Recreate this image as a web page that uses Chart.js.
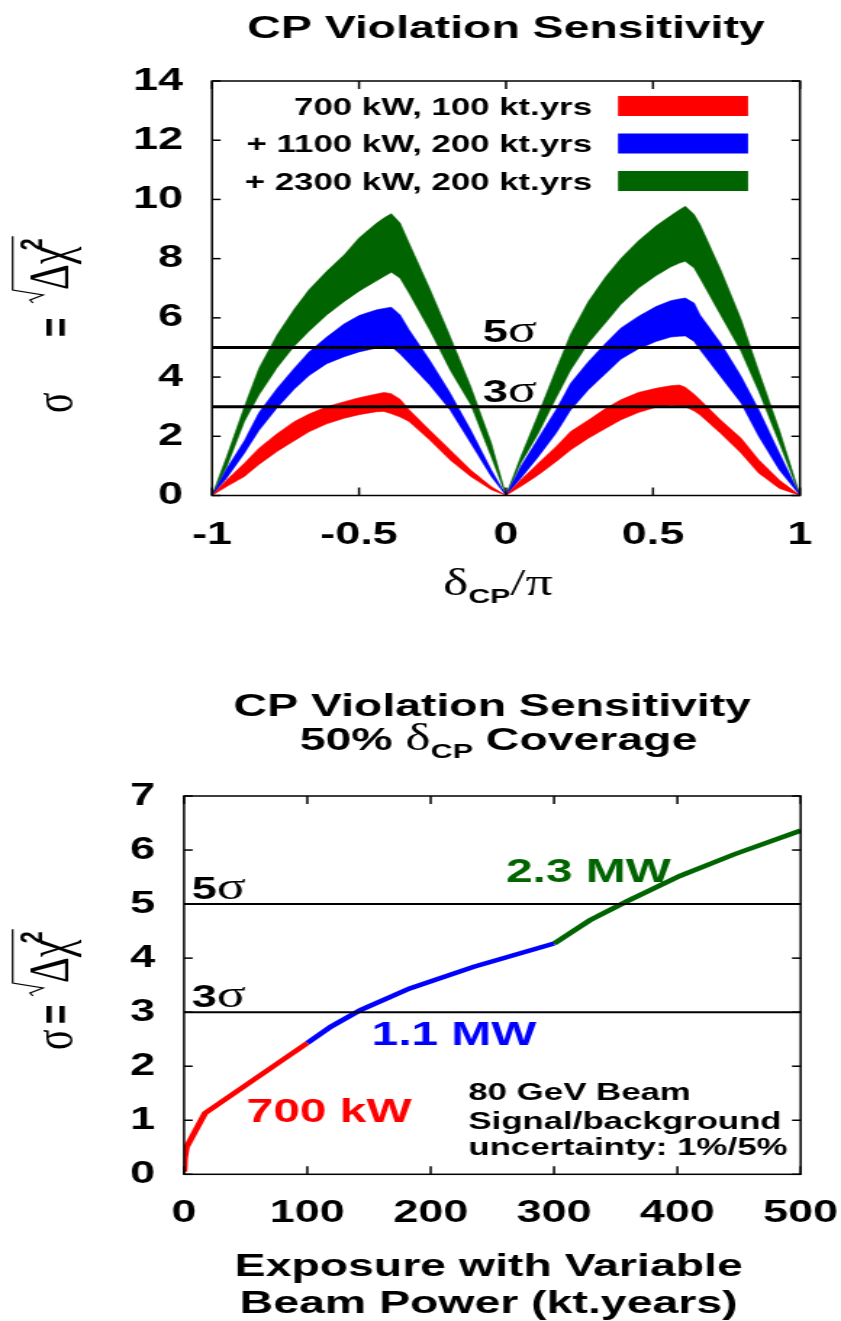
<!DOCTYPE html>
<html>
<head>
<meta charset="utf-8">
<script src="https://cdn.jsdelivr.net/npm/chart.js@4.4.1/dist/chart.umd.min.js"></script>
<style>
  html, body { margin: 0; padding: 0; background: #fff; }
  #wrap { position: relative; width: 841px; height: 1321px; overflow: hidden; }
  canvas { position: absolute; left: 0; }
</style>
</head>
<body>
<div id="wrap">
  <canvas id="cpTop" width="580" height="640" style="top:0;width:841px;height:640px"></canvas>
  <canvas id="cpBottom" width="580" height="681" style="top:640px;width:841px;height:681px"></canvas>
</div>
<script>
'use strict';

// ---- data: top panel (bands of sigma vs deltaCP/pi)
const deltaCP = [-1, -0.95, -0.89, -0.84, -0.78, -0.72, -0.67, -0.61, -0.55, -0.5, -0.44, -0.415, -0.39, -0.36, -0.33, -0.26, -0.19, -0.12, -0.05, 0,
  0.05, 0.11, 0.17, 0.22, 0.28, 0.34, 0.39, 0.45, 0.51, 0.56, 0.59, 0.61, 0.64, 0.66, 0.73, 0.80, 0.86, 0.93, 1];

const redLow = [0, 0.3, 0.64, 1.05, 1.48, 1.85, 2.15, 2.42, 2.61, 2.73, 2.83, 2.84, 2.76, 2.65, 2.5, 1.88, 1.2, 0.64, 0.19, 0,
  0.3, 0.69, 1.14, 1.54, 1.93, 2.27, 2.55, 2.8, 2.98, 3.06, 3.04, 3.0, 2.85, 2.72, 2.1, 1.43, 0.75, 0.24, 0];
const redHigh = [0, 0.52, 1.09, 1.6, 2.08, 2.5, 2.75, 3.0, 3.17, 3.3, 3.43, 3.48, 3.44, 3.25, 2.9, 2.21, 1.54, 0.86, 0.3, 0,
  0.52, 1.09, 1.65, 2.16, 2.55, 2.95, 3.23, 3.48, 3.62, 3.71, 3.73, 3.66, 3.42, 3.23, 2.55, 1.93, 1.2, 0.52, 0];
const blueLow = [0, 0.59, 1.43, 2.2, 2.95, 3.6, 4.05, 4.45, 4.69, 4.85, 4.98, 5.0, 5.03, 4.78, 4.47, 3.74, 2.89, 1.77, 0.64, 0,
  0.58, 1.31, 2.1, 2.89, 3.57, 4.13, 4.6, 4.95, 5.2, 5.35, 5.38, 5.39, 5.2, 4.92, 4.02, 3.12, 1.99, 0.86, 0];
const blueHigh = [0, 0.9, 1.85, 2.8, 3.6, 4.3, 4.85, 5.35, 5.8, 6.08, 6.27, 6.32, 6.36, 6.1, 5.6, 4.58, 3.46, 2.21, 0.86, 0,
  0.97, 1.93, 2.89, 3.79, 4.52, 5.15, 5.65, 6.05, 6.38, 6.58, 6.64, 6.67, 6.5, 6.1, 5.15, 4.02, 2.89, 1.43, 0];
const greenLow = [0, 0.97, 2.5, 3.4, 4.3, 5.05, 5.55, 6.1, 6.55, 6.9, 7.25, 7.4, 7.54, 7.34, 6.84, 5.6, 4.24, 3.07, 1.31, 0,
  1.09, 2.1, 3.29, 4.24, 5.15, 5.85, 6.45, 7.0, 7.42, 7.72, 7.85, 7.91, 7.68, 7.34, 6.1, 4.86, 3.51, 1.77, 0];
const greenHigh = [0, 1.31, 3.0, 4.3, 5.4, 6.3, 6.95, 7.57, 8.13, 8.7, 9.2, 9.38, 9.52, 9.2, 8.53, 7.0, 5.37, 3.68, 1.77, 0,
  1.3, 2.75, 4.25, 5.45, 6.55, 7.4, 8.0, 8.6, 9.1, 9.45, 9.65, 9.77, 9.49, 9.15, 7.63, 5.94, 4.19, 2.21, 0];

const bandLabels = ['700 kW, 100 kt.yrs', '+ 1100 kW, 200 kt.yrs', '+ 2300 kW, 200 kt.yrs'];
const bandColors = ['#ff0000', '#0000ff', '#006400'];

// ---- data: bottom panel (50% coverage vs exposure)
const exposure700 = [0, 0.5, 2, 17, 100];
const sensitivity700 = [0.05, 0.3, 0.5, 1.13, 2.43];
const exposure1100 = [100, 119, 143, 183, 235, 300];
const sensitivity1100 = [2.43, 2.73, 3.04, 3.44, 3.84, 4.27];
const exposure2300 = [300, 329, 359, 402, 446, 500];
const sensitivity2300 = [4.27, 4.7, 5.05, 5.52, 5.92, 6.36];

const sigmaLevels = [5, 3];
const sigmaLabels = ['5', '3'];

const SANS = '"Liberation Sans", Arial, Helvetica, sans-serif';
const SERIF = '"Liberation Serif", "Times New Roman", serif';
const TICK_FONT = { family: SANS, size: 31, weight: 'bold' };

// canvases are drawn 580 px wide and stretched to 841 px, like the original
function toPoints(xs, ys) {
  return xs.map((x, i) => ({ x: x, y: ys[i] }));
}

function bandDatasets(low, high, color) {
  return [
    { data: toPoints(deltaCP, low), borderColor: color, borderWidth: 0.6, fill: false, order: 2 },
    { data: toPoints(deltaCP, high), borderColor: color, borderWidth: 0.6, backgroundColor: color, fill: '-1', order: 2 }
  ];
}

function sigmaDatasets(xMin, xMax, width) {
  return sigmaLevels.map(s => ({
    data: [{ x: xMin, y: s }, { x: xMax, y: s }],
    borderColor: '#000', borderWidth: width, fill: false, order: 0
  }));
}

function drawRich(ctx, parts, x, y, align) {
  let total = 0;
  parts.forEach(p => { ctx.font = p[1]; total += ctx.measureText(p[0]).width; });
  let cx = align === 'center' ? x - total / 2 : (align === 'right' ? x - total : x);
  ctx.textAlign = 'left';
  ctx.textBaseline = 'alphabetic';
  parts.forEach(p => {
    ctx.font = p[1];
    ctx.fillText(p[0], cx, y + (p[2] || 0));
    cx += ctx.measureText(p[0]).width;
  });
}

// rotated "sigma = sqrt(Delta chi^2)", eqU / deltaU are offsets along the text
function drawYLabel(ctx, xb, yb, eqU, deltaU) {
  ctx.save();
  ctx.translate(xb, yb);
  ctx.rotate(-Math.PI / 2);
  ctx.fillStyle = '#000';
  ctx.strokeStyle = '#000';
  ctx.textAlign = 'left';
  ctx.textBaseline = 'alphabetic';
  ctx.font = '38px ' + SERIF;
  ctx.fillText('σ', 0, 0);
  ctx.font = 'bold 33px ' + SANS;
  ctx.fillText('=', eqU, 0);
  ctx.font = '40px ' + SERIF;
  const dw = ctx.measureText('Δχ').width;
  ctx.fillText('Δχ', deltaU, -3);
  ctx.font = 'bold 22px ' + SANS;
  const tw = ctx.measureText('2').width;
  ctx.fillText('2', deltaU + dw - 4, -21);
  const r0 = deltaU - 13;
  const end = deltaU + dw + tw - 2;
  ctx.lineWidth = 1.2;
  ctx.beginPath();
  ctx.moveTo(r0, -27);
  ctx.lineTo(r0 + 3, -29);
  ctx.lineTo(r0 + 8, -20);
  ctx.lineTo(r0 + 13, -41);
  ctx.lineTo(end, -41);
  ctx.stroke();
  ctx.restore();
}

function line(ctx, x1, y1, x2, y2) {
  ctx.beginPath();
  ctx.moveTo(x1, y1);
  ctx.lineTo(x2, y2);
  ctx.stroke();
}

// box with inward ticks on all four sides
const framePlugin = {
  id: 'frame',
  afterDatasetsDraw(chart) {
    const { ctx, chartArea: a, scales: { x, y } } = chart;
    ctx.save();
    ctx.strokeStyle = '#000';
    ctx.lineWidth = 1.5;
    ctx.strokeRect(a.left, a.top, a.right - a.left, a.bottom - a.top);
    y.ticks.forEach(t => {
      const py = y.getPixelForValue(t.value);
      line(ctx, a.left, py, a.left + 6, py);
      line(ctx, a.right, py, a.right - 6, py);
    });
    x.ticks.forEach(t => {
      const px = x.getPixelForValue(t.value);
      line(ctx, px, a.bottom, px, a.bottom - 8);
      line(ctx, px, a.top, px, a.top + 8);
    });
    ctx.restore();
  }
};

function baseScales(xMin, xMax, xStep, yMin, yMax, yStep, yWidth) {
  return {
    x: {
      type: 'linear', min: xMin, max: xMax,
      grid: { display: false, drawTicks: false }, border: { display: false },
      ticks: { stepSize: xStep, font: TICK_FONT, color: '#000', padding: 21, maxRotation: 0, autoSkip: false,
        callback: v => String(v) },
      afterFit: s => { s.height = 60; s.paddingLeft = 0; s.paddingRight = 0; }
    },
    y: {
      type: 'linear', min: yMin, max: yMax,
      grid: { display: false, drawTicks: false }, border: { display: false },
      ticks: { stepSize: yStep, font: TICK_FONT, color: '#000', padding: 20 },
      afterFit: s => { s.width = yWidth; s.paddingTop = 0; s.paddingBottom = 0; }
    }
  };
}

// Top chart
const topLabels = {
  id: 'topLabels',
  afterDraw(chart) {
    const { ctx, scales: { y } } = chart;
    ctx.save();
    ctx.fillStyle = '#000';
    drawRich(ctx, [['CP Violation Sensitivity', 'bold 32px ' + SANS]], 349, 38, 'center');

    bandLabels.forEach((lab, i) => {
      const cy = 106 + i * 37.5;
      ctx.fillStyle = '#000';
      drawRich(ctx, [[lab, 'bold 24px ' + SANS]], 408.3, cy + 8.5, 'right');
      ctx.fillStyle = bandColors[i];
      ctx.fillRect(426.2, cy - 10, 89.7, 20);
    });

    ctx.fillStyle = '#000';
    sigmaLevels.forEach((s, i) => {
      drawRich(ctx, [[sigmaLabels[i], 'bold 31px ' + SANS], ['σ', '37px ' + SERIF]], 332.9, y.getPixelForValue(s) - 5, 'left');
    });

    drawRich(ctx, [['δ', '37px ' + SERIF], ['CP', 'bold 21px ' + SANS, 8], ['/π', '37px ' + SERIF]], 305.5, 595, 'left');
    drawYLabel(ctx, 49.7, 413, 76, 123);
    ctx.restore();
  }
};

new Chart(document.getElementById('cpTop'), {
  type: 'line',
  data: {
    datasets: [
      ...bandDatasets(redLow, redHigh, bandColors[0]),
      ...bandDatasets(blueLow, blueHigh, bandColors[1]),
      ...bandDatasets(greenLow, greenHigh, bandColors[2]),
      ...sigmaDatasets(-1, 1, 3)
    ]
  },
  options: {
    responsive: false,
    animation: false,
    layout: { padding: { left: 0, right: 28.3, top: 81, bottom: 84.5 } },
    elements: { point: { radius: 0 }, line: { tension: 0 } },
    plugins: { legend: { display: false }, tooltip: { enabled: false } },
    scales: baseScales(-1, 1, 0.5, 0, 14, 2, 146.2)
  },
  plugins: [framePlugin, topLabels]
});

// Bottom chart
const bottomLabels = {
  id: 'bottomLabels',
  afterDraw(chart) {
    const { ctx, scales: { y } } = chart;
    ctx.save();
    ctx.fillStyle = '#000';
    drawRich(ctx, [['CP Violation Sensitivity', 'bold 32px ' + SANS]], 339.5, 76, 'center');
    drawRich(ctx, [['50% ', 'bold 32px ' + SANS], ['δ', '37px ' + SERIF], ['CP', 'bold 21px ' + SANS, 8], [' Coverage', 'bold 32px ' + SANS]], 343.8, 110, 'center');

    sigmaLevels.forEach((s, i) => {
      drawRich(ctx, [[sigmaLabels[i], 'bold 31px ' + SANS], ['σ', '37px ' + SERIF]], 132.2, y.getPixelForValue(s) - 5, 'left');
    });

    ctx.fillStyle = '#006400';
    drawRich(ctx, [['2.3 MW', 'bold 33px ' + SANS]], 349, 241.7, 'left');
    ctx.fillStyle = '#0000ff';
    drawRich(ctx, [['1.1 MW', 'bold 33px ' + SANS]], 256.3, 405, 'left');
    ctx.fillStyle = '#ff0000';
    drawRich(ctx, [['700 kW', 'bold 33px ' + SANS]], 170.1, 481.7, 'left');

    ctx.fillStyle = '#000';
    drawRich(ctx, [['80 GeV Beam', 'bold 24px ' + SANS]], 323, 460, 'left');
    drawRich(ctx, [['Signal/background', 'bold 24px ' + SANS]], 323, 489, 'left');
    drawRich(ctx, [['uncertainty: 1%/5%', 'bold 24px ' + SANS]], 323, 515, 'left');

    drawRich(ctx, [['Exposure with Variable', 'bold 32px ' + SANS]], 337, 636, 'center');
    drawRich(ctx, [['Beam Power (kt.years)', 'bold 32px ' + SANS]], 337, 673, 'center');

    drawYLabel(ctx, 49.7, 410, 26, 67);
    ctx.restore();
  }
};

new Chart(document.getElementById('cpBottom'), {
  type: 'line',
  data: {
    datasets: [
      { data: toPoints(exposure700, sensitivity700), borderColor: '#ff0000', borderWidth: 4.5, fill: false, order: 1 },
      { data: toPoints(exposure1100, sensitivity1100), borderColor: '#0000ff', borderWidth: 4.5, fill: false, order: 1 },
      { data: toPoints(exposure2300, sensitivity2300), borderColor: '#006400', borderWidth: 4.5, fill: false, order: 1 },
      ...sigmaDatasets(0, 500, 2)
    ]
  },
  options: {
    responsive: false,
    animation: false,
    layout: { padding: { left: 0, right: 27.8, top: 156, bottom: 86.7 } },
    elements: { point: { radius: 0 }, line: { tension: 0 } },
    plugins: { legend: { display: false }, tooltip: { enabled: false } },
    scales: baseScales(0, 500, 100, 0, 7, 1, 126.9)
  },
  plugins: [framePlugin, bottomLabels]
});
</script>
</body>
</html>
